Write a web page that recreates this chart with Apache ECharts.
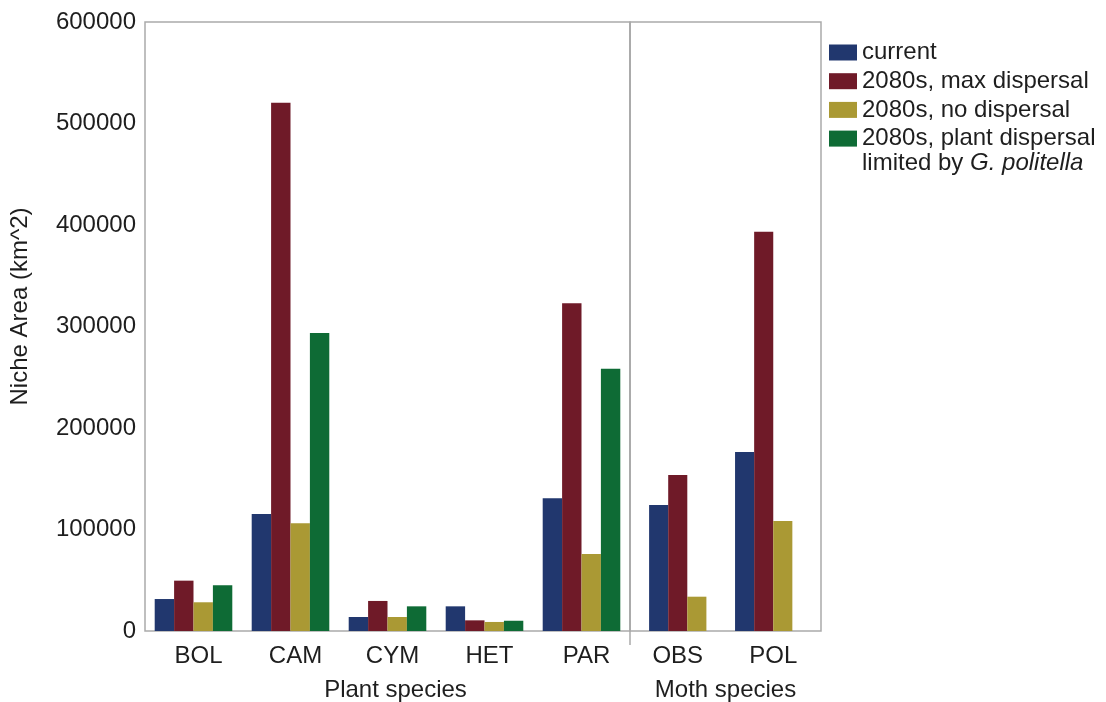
<!DOCTYPE html>
<html>
<head>
<meta charset="utf-8">
<script src="https://cdn.jsdelivr.net/npm/echarts@6/dist/echarts.min.js"></script>
<style>html,body{margin:0;padding:0;background:#fff;}#c{width:1106px;height:702px;}</style>
</head>
<body>
<div id="c"></div>
<script>
// ---- data ----
const plantSpecies = ['BOL', 'CAM', 'CYM', 'HET', 'PAR'];
const mothSpecies = ['OBS', 'POL'];
const seriesNames = ['current', '2080s, max dispersal', '2080s, no dispersal', '2080s, plant dispersal limited by G. politella'];
// values in order: BOL, CAM, CYM, HET, PAR, OBS, POL
const current    = [31500, 115300, 13800, 24300, 130700, 124100, 176400];
const maxDisp    = [49600, 520500, 29600, 10500, 322900, 153700, 393400];
const noDisp     = [28300, 106100, 13800,  8900,  75900,  33800, 108400];
const plantDisp  = [45000, 293600, 24300, 10100, 258400,   null,   null];
const yTicks = [0, 100000, 200000, 300000, 400000, 500000, 600000];
const threeBarSpecies = ['OBS']; // moth species drawn as a centred group of three bars

const colors = ['#21376e', '#6f1a28', '#aa9934', '#0e6b35'];
const FONT = '"Liberation Sans", Arial, Helvetica, sans-serif';
const TXT = '#1e1e1e';

const allSpecies = plantSpecies.concat(mothSpecies);
const valueSets = [current, maxDisp, noDisp, plantDisp];

const chart = echarts.init(document.getElementById('c'));

function pick(vals, cats, filterFn) {
  return cats.map(c => {
    const v = vals[allSpecies.indexOf(c)];
    return filterFn(c) ? (v == null ? null : v) : null;
  });
}

const series = [];
// plant panel
valueSets.forEach((vals, i) => {
  series.push({
    name: seriesNames[i], type: 'bar', xAxisIndex: 0, yAxisIndex: 0,
    data: pick(vals, plantSpecies, () => true),
    barWidth: '20%', barGap: '0%', itemStyle: { color: colors[i] }
  });
});
// moth panel: four-slot group
valueSets.forEach((vals, i) => {
  series.push({
    name: seriesNames[i], type: 'bar', xAxisIndex: 1, yAxisIndex: 1,
    data: pick(vals, mothSpecies, c => threeBarSpecies.indexOf(c) < 0),
    barWidth: '20%', barGap: '0%', itemStyle: { color: colors[i] }
  });
});
// moth panel: centred three-bar group
valueSets.slice(0, 3).forEach((vals, i) => {
  series.push({
    name: seriesNames[i], type: 'bar', xAxisIndex: 2, yAxisIndex: 1,
    data: pick(vals, mothSpecies, c => threeBarSpecies.indexOf(c) >= 0),
    barWidth: '20%', barGap: '0%', itemStyle: { color: colors[i] }
  });
});

const yMax = yTicks[yTicks.length - 1];
const yStep = yTicks[1] - yTicks[0];

const option = {
  animation: false,
  textStyle: { fontFamily: FONT },
  grid: [
    { left: 145, width: 485, top: 22, bottom: 71, show: true, borderColor: '#aaaaaa', borderWidth: 1.5, backgroundColor: 'transparent' },
    { left: 630, right: 285, top: 22, bottom: 71, show: true, borderColor: '#aaaaaa', borderWidth: 1.5, backgroundColor: 'transparent' }
  ],
  xAxis: [
    { type: 'category', gridIndex: 0, data: plantSpecies,
      axisLine: { show: false }, axisTick: { show: false },
      axisLabel: { fontSize: 24, color: TXT, fontFamily: FONT, margin: 13, padding: [0, 0, 0, 10] } },
    { type: 'category', gridIndex: 1, data: mothSpecies,
      axisLine: { show: false }, axisTick: { show: false },
      axisLabel: { fontSize: 24, color: TXT, fontFamily: FONT, margin: 13 } },
    { type: 'category', gridIndex: 1, data: mothSpecies, show: false }
  ],
  yAxis: [
    { type: 'value', gridIndex: 0, min: 0, max: yMax, interval: yStep,
      axisLine: { show: false }, axisTick: { show: false }, splitLine: { show: false },
      axisLabel: { fontSize: 24, color: TXT, fontFamily: FONT, margin: 9, formatter: v => String(v) },
      name: 'Niche Area (km^2)', nameLocation: 'middle', nameGap: 113,
      nameTextStyle: { fontSize: 24, color: TXT, fontFamily: FONT, padding: [0, 0, 0, 40] } },
    { type: 'value', gridIndex: 1, min: 0, max: yMax, interval: yStep, show: false,
      splitLine: { show: false } }
  ],
  legend: {
    orient: 'vertical', left: 829, top: 38.5, padding: 0,
    itemWidth: 28, itemHeight: 16, itemGap: 0.7,
    icon: 'rect',
    data: seriesNames,
    formatter: name => name === seriesNames[3] ? '2080s, plant dispersal' : name,
    textStyle: { fontSize: 24, color: TXT, fontFamily: FONT, lineHeight: 28 }
  },
  series: series
};
chart.setOption(option);

// annotations placed from the library's own coordinates
const plantLeft = chart.convertToPixel({ xAxisIndex: 0 }, plantSpecies[0]);
const plantRight = chart.convertToPixel({ xAxisIndex: 0 }, plantSpecies[plantSpecies.length - 1]);
const mothLeft = chart.convertToPixel({ xAxisIndex: 1 }, mothSpecies[0]);
const mothRight = chart.convertToPixel({ xAxisIndex: 1 }, mothSpecies[mothSpecies.length - 1]);
const half = (plantRight - plantLeft) / (plantSpecies.length - 1) / 2;
const divX = plantRight + half;
const yTop = chart.convertToPixel({ yAxisIndex: 0 }, yMax);
const yBase = chart.convertToPixel({ yAxisIndex: 0 }, 0);

chart.setOption({
  graphic: [
    { type: 'line', shape: { x1: divX, y1: yTop, x2: divX, y2: yBase + 14 },
      style: { stroke: '#aaaaaa', lineWidth: 1.5 }, silent: true },
    { type: 'text', x: (plantLeft + plantRight) / 2 + 8, y: 690,
      style: { text: 'Plant species', font: '24px ' + FONT, fill: TXT, align: 'center', verticalAlign: 'middle' } },
    { type: 'text', x: (mothLeft + mothRight) / 2, y: 690,
      style: { text: 'Moth species', font: '24px ' + FONT, fill: TXT, align: 'center', verticalAlign: 'middle' } },
    { type: 'text', x: 862, y: 163,
      style: { text: 'limited by {i|G. politella}', font: '24px ' + FONT, fill: TXT, verticalAlign: 'middle',
        rich: { i: { fontStyle: 'italic', fontSize: 24, fontFamily: FONT, fill: TXT, color: TXT } } } }
  ]
});
</script>
</body>
</html>
